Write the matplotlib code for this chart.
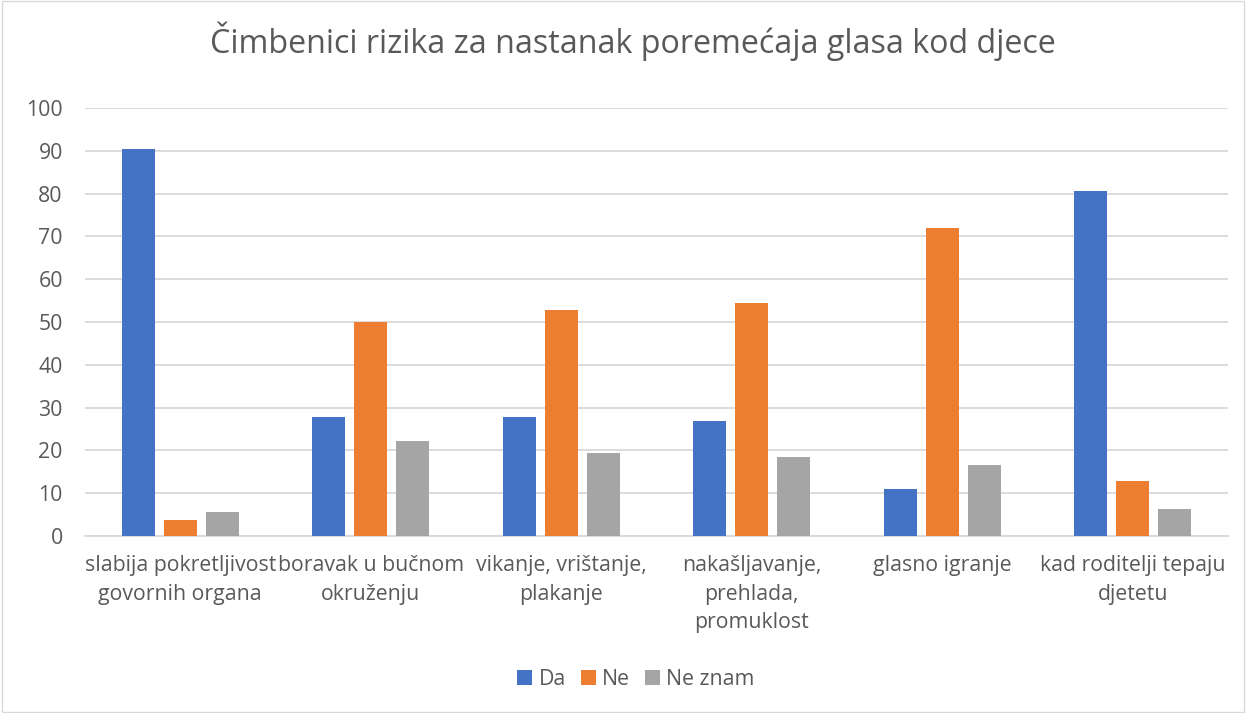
import matplotlib.pyplot as plt
import numpy as np
from matplotlib.patches import Rectangle

categories = [
    "slabija pokretljivost\ngovornih organa",
    "boravak u bučnom\nokruženju",
    "vikanje, vrištanje,\nplakanje",
    "nakašljavanje,\nprehlada,\npromuklost",
    "glasno igranje",
    "kad roditelji tepaju\ndjetetu",
]
series_names = ["Da", "Ne", "Ne znam"]
da = [90.5, 27.7, 27.7, 26.8, 11.0, 80.5]
ne = [3.7, 49.9, 52.7, 54.4, 72.0, 12.9]
ne_znam = [5.5, 22.1, 19.4, 18.5, 16.6, 6.4]
colors = ["#4472C4", "#ED7D31", "#A5A5A5"]
yticks = list(range(0, 101, 10))

plt.rcParams["font.family"] = ["Open Sans", "DejaVu Sans"]

fig = plt.figure(figsize=(12.46, 7.13), dpi=100)
ax = fig.add_axes([0.0682, 0.2482, 0.9174, 0.6003])

x = np.arange(len(categories))
width = 0.173
step = 0.22
for i, (vals, name, col) in enumerate(zip([da, ne, ne_znam], series_names, colors)):
    ax.bar(x + (i - 1) * step, vals, width, color=col, label=name, zorder=3)

ax.set_xlim(-0.5, len(categories) - 0.5)
ax.set_ylim(0, 100)
ax.set_yticks(yticks)
ax.yaxis.grid(True, color="#D9D9D9", linewidth=1.3, zorder=0)
ax.set_axisbelow(True)
for s in ["top", "right", "left"]:
    ax.spines[s].set_visible(False)
ax.spines["bottom"].set_color("#D9D9D9")
ax.spines["bottom"].set_linewidth(1.3)
ax.tick_params(axis="both", length=0, labelsize=15.3, colors="#595959")
ax.tick_params(axis="y", pad=16)
ax.tick_params(axis="x", pad=14)
ax.set_xticks(x)
ax.set_xticklabels(categories, linespacing=1.45)

fig.suptitle("Čimbenici rizika za nastanak poremećaja glasa kod djece",
             x=0.5076, y=0.97, fontsize=23.2, color="#595959")

ax.legend(loc="center", bbox_to_anchor=(0.482, -0.335), ncol=3, frameon=False,
          fontsize=15.3, labelcolor="#595959", handlelength=0.7, handleheight=0.7,
          handletextpad=0.3, columnspacing=0.7)

fig.patches.append(Rectangle((0.002, 0.002), 0.996, 0.996, transform=fig.transFigure,
                             fill=False, edgecolor="#D9D9D9", linewidth=1))

fig.savefig("out.png", dpi=100)
